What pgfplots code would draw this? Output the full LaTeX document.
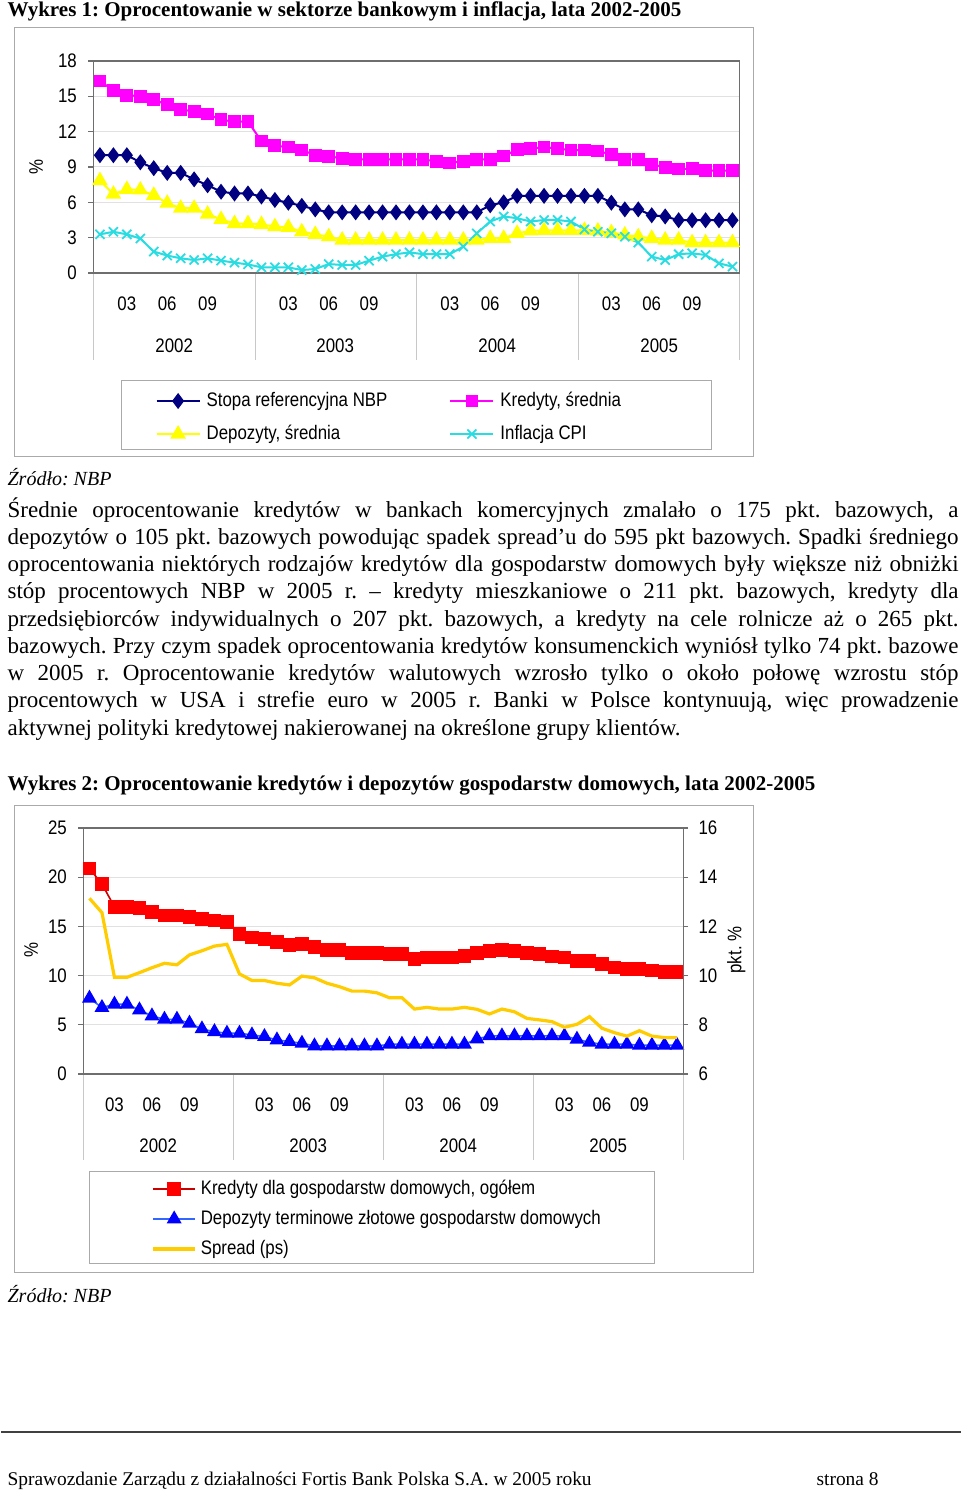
\documentclass[border=0pt]{standalone}
\usepackage{pgfplots}
\pgfplotsset{compat=1.18}
\usepackage{pgfplotstable}
\usepackage{fontspec}
\setmainfont{Liberation Serif}
\newfontfamily\chartfont[FakeStretch=0.86]{Liberation Sans}
\newcommand{\cf}{\chartfont\fontsize{9.8pt}{11pt}\selectfont}
\frenchspacing

\definecolor{navyc}{RGB}{0,0,128}
\definecolor{magc}{RGB}{255,0,255}
\definecolor{yelc}{RGB}{255,255,0}
\definecolor{cyanc}{RGB}{40,220,225}
\definecolor{redm}{RGB}{255,0,0}
\definecolor{redl}{RGB}{200,0,0}
\definecolor{bluem}{RGB}{0,0,255}
\definecolor{bluel}{RGB}{51,102,255}
\definecolor{spreadc}{RGB}{255,204,0}
\definecolor{gridc}{RGB}{225,225,225}
\definecolor{axisc}{RGB}{110,110,110}
\definecolor{framec}{RGB}{170,170,170}
\definecolor{sepc}{RGB}{200,200,200}

\pgfplotstableread{
m nbp kred dep cpi
1 10.0 16.3 7.85 3.28
2 10.0 15.5 6.7 3.5
3 10.0 15.1 7.1 3.28
4 9.4 15.0 7.05 2.93
5 8.9 14.7 6.6 1.82
6 8.5 14.3 5.93 1.48
7 8.5 13.9 5.5 1.25
8 7.95 13.7 5.5 1.1
9 7.45 13.5 5.0 1.25
10 6.9 13.0 4.55 1.05
11 6.75 12.85 4.2 0.88
12 6.75 12.85 4.2 0.73
13 6.5 11.2 4.13 0.48
14 6.2 10.8 3.93 0.48
15 5.97 10.7 3.88 0.48
16 5.7 10.45 3.5 0.25
17 5.4 10.0 3.28 0.34
18 5.15 9.9 3.08 0.76
19 5.15 9.75 2.8 0.68
20 5.15 9.65 2.8 0.68
21 5.15 9.65 2.8 1.05
22 5.15 9.65 2.8 1.39
23 5.15 9.65 2.8 1.6
24 5.15 9.65 2.8 1.75
25 5.15 9.65 2.8 1.6
26 5.15 9.48 2.8 1.6
27 5.15 9.34 2.8 1.6
28 5.15 9.5 2.8 2.24
29 5.15 9.65 2.8 3.37
30 5.75 9.65 2.95 4.37
31 6.0 9.93 2.95 4.8
32 6.55 10.47 3.37 4.65
33 6.55 10.55 3.57 4.37
34 6.55 10.7 3.62 4.5
35 6.55 10.55 3.62 4.5
36 6.55 10.44 3.62 4.37
37 6.55 10.44 3.62 3.7
38 6.55 10.36 3.57 3.5
39 5.97 10.05 3.43 3.37
40 5.4 9.65 3.23 3.08
41 5.4 9.65 3.08 2.58
42 4.9 9.22 2.95 1.39
43 4.8 8.97 2.8 1.1
44 4.48 8.83 2.8 1.6
45 4.48 8.85 2.58 1.67
46 4.48 8.69 2.58 1.53
47 4.48 8.69 2.58 0.82
48 4.48 8.69 2.58 0.54
}\tabA

\pgfplotstableread{
m kred dep spread
1 20.9 7.7 13.14
2 19.3 6.75 12.56
3 17.0 7.09 9.93
4 17.0 7.09 9.93
5 16.9 6.51 10.12
6 16.45 5.9 10.32
7 16.1 5.56 10.5
8 16.1 5.56 10.44
9 15.94 5.16 10.84
10 15.77 4.58 11.01
11 15.6 4.3 11.2
12 15.46 4.14 11.27
13 14.2 4.14 10.07
14 13.87 3.97 9.8
15 13.73 3.8 9.8
16 13.4 3.46 9.69
17 13.09 3.3 9.62
18 13.22 3.12 9.98
19 12.92 2.85 9.91
20 12.6 2.85 9.69
21 12.6 2.85 9.55
22 12.28 2.85 9.37
23 12.28 2.85 9.37
24 12.28 2.85 9.3
25 12.18 3.02 9.1
26 12.18 3.02 9.1
27 11.67 3.02 8.64
28 11.83 3.02 8.71
29 11.83 3.02 8.64
30 11.83 3.02 8.64
31 12.0 3.02 8.71
32 12.28 3.56 8.63
33 12.48 3.87 8.44
34 12.6 3.87 8.64
35 12.48 3.87 8.53
36 12.28 3.87 8.26
37 12.18 3.87 8.2
38 11.93 3.87 8.13
39 11.83 3.87 7.9
40 11.5 3.53 8.02
41 11.5 3.22 8.33
42 11.16 3.02 7.86
43 10.82 3.02 7.68
44 10.68 3.02 7.54
45 10.68 2.92 7.76
46 10.5 2.92 7.54
47 10.34 2.92 7.48
48 10.34 2.92 7.48
}\tabB

\pgfplotsset{
  pagechart/.style={
    scale only axis, clip=false,
    xmin=0.5, xmax=48.5,
    xtick={3,6,9,15,18,21,27,30,33,39,42,45},
    xticklabels={03,06,09,03,06,09,03,06,09,03,06,09},
    xtick style={draw=none},
    ytick pos=left,
    tick align=outside, major tick length=2.5pt,
    axis line style={color=axisc, line width=0.6pt},
    ytick style={color=axisc, line width=0.6pt},
    ymajorgrids, grid style={color=gridc, line width=0.5pt},
    tick label style={font=\cf},
    /pgf/number format/assume math mode=true,
    xticklabel style={anchor=north, inner sep=0pt, yshift=-9pt},
    yticklabel style={anchor=east, inner sep=0pt, xshift=-5.5pt},
    legend cell align=left,
  }
}

\begin{document}
\begin{tikzpicture}
\begin{scope}[x=0.5pt,y=-0.5pt]
  \path[use as bounding box] (0,0) rectangle (960,1491);
  \fill[white] (0,0) rectangle (960,1491);
  % chart frames
  \draw[framec, line width=0.5pt] (13,28) rectangle (752,457);
  \draw[framec, line width=0.5pt] (13,805) rectangle (752,1272);
  % legend boxes
  \draw[framec, line width=0.5pt] (120,381) rectangle (710,450);
  \draw[framec, line width=0.5pt] (88,1171) rectangle (653,1263);
  % category separators
  \foreach \x in {92,254,415,577,738} \draw[sepc, line width=0.5pt] (\x,273) -- (\x,360);
  \foreach \x in {82,232,382,532,682} \draw[sepc, line width=0.5pt] (\x,1074) -- (\x,1160);
\end{scope}

% ---------- Chart 1 ----------
\begin{axis}[pagechart,
  at={(46pt,-136.5pt)}, anchor=south west,
  width=323pt, height=106pt,
  ymin=0, ymax=18, ytick={0,3,...,18},
  legend columns=2,
  legend image code/.code={\draw[mark repeat=2,mark phase=2] plot coordinates {(0pt,0pt) (10.75pt,0pt) (21.5pt,0pt)};},
  legend style={draw=none, fill=none, inner sep=0pt, row sep=0pt, column sep=3pt,
    at={(0.0960,-0.6817)}, anchor=west, font=\cf,
    nodes={inner sep=0pt, minimum height=16.5pt},
    /tikz/every even column/.append style={column sep=31pt}},
]
\addplot[color=navyc, line width=1pt, mark=diamond*, mark size=3.2pt, mark options={fill=navyc}] table[x=m,y=nbp] {\tabA};
\addlegendentry{Stopa referencyjna NBP}
\addplot[color=magc, line width=1pt, mark=square*, mark size=2.7pt, mark options={fill=magc}] table[x=m,y=kred] {\tabA};
\addlegendentry{Kredyty, średnia}
\addplot[color=yelc, line width=1pt, mark=triangle*, mark size=3.5pt, mark options={fill=yelc}] table[x=m,y=dep] {\tabA};
\addlegendentry{Depozyty, średnia}
\addplot[color=cyanc, line width=1pt, mark=x, mark size=3.2pt, mark options={line width=0.9pt}] table[x=m,y=cpi] {\tabA};
\addlegendentry{Inflacja CPI}
\end{axis}

% ---------- Chart 2 ----------
\begin{axis}[pagechart,
  at={(41pt,-537pt)}, anchor=south west,
  width=300pt, height=123pt,
  ymin=0, ymax=25, ytick={0,5,...,25},
  legend image code/.code={\draw[mark repeat=2,mark phase=2] plot coordinates {(0pt,0pt) (10.5pt,0pt) (21pt,0pt)};},
  legend style={draw=none, fill=none, inner sep=0pt, row sep=0pt, column sep=2pt,
    at={(0.1133,-0.5894)}, anchor=west, font=\cf,
    nodes={inner sep=0pt, minimum height=15pt}},
]
\addplot[color=redl, line width=0.8pt, mark=square*, mark size=3pt, mark options={fill=redm, draw=redm}] table[x=m,y=kred] {\tabB};
\addlegendentry{Kredyty dla gospodarstw domowych, ogółem}
\addplot[color=bluel, line width=0.8pt, mark=triangle*, mark size=3.5pt, mark options={fill=bluem, draw=bluem}] table[x=m,y=dep] {\tabB};
\addlegendentry{Depozyty terminowe złotowe gospodarstw domowych}
\addlegendimage{color=spreadc, line width=1.6pt, no markers}
\addlegendentry{Spread (ps)}
\end{axis}
\begin{axis}[
  at={(41pt,-537pt)}, anchor=south west,
  scale only axis, clip=false,
  width=300pt, height=123pt,
  xmin=0.5, xmax=48.5,
  ymin=6, ymax=16, ytick={6,8,...,16},
  axis x line=none, axis y line*=right,
  tick align=outside, major tick length=2.5pt,
  axis line style={color=axisc, line width=0.6pt},
  ytick style={color=axisc, line width=0.6pt},
  tick label style={font=\cf},
  /pgf/number format/assume math mode=true,
  yticklabel style={anchor=west, inner sep=0pt, xshift=5pt},
]
\addplot[color=spreadc, line width=1.6pt, no markers] table[x=m,y=spread] {\tabB};
\end{axis}

\begin{scope}[x=0.5pt,y=-0.5pt]
  % titles
  \node[anchor=base west, inner sep=0pt, font=\bfseries\fontsize{10.5pt}{12pt}\selectfont] at (6,17) {Wykres 1: Oprocentowanie w sektorze bankowym i inflacja, lata 2002-2005};
  \node[anchor=base west, inner sep=0pt, font=\bfseries\fontsize{10.5pt}{12pt}\selectfont] at (6,790) {Wykres 2: Oprocentowanie kredytów i depozytów gospodarstw domowych, lata 2002-2005};
  % axis labels
  \node[rotate=90, font=\cf, inner sep=0pt] at (35,167) {\%};
  \node[rotate=90, font=\cf, inner sep=0pt] at (30,950) {\%};
  \node[rotate=90, font=\cf, inner sep=0pt] at (735,950) {pkt. \%};
  % years
  \foreach \x/\t in {173/2002,334/2003,496/2004,658/2005} \node[font=\cf, inner sep=0pt] at (\x,346) {\t};
  \foreach \x/\t in {157/2002,307/2003,457/2004,607/2005} \node[font=\cf, inner sep=0pt] at (\x,1146) {\t};
  % sources
  \node[anchor=base west, inner sep=0pt, font=\itshape\fontsize{10pt}{12pt}\selectfont] at (6,486) {Źródło: NBP};
  \node[anchor=base west, inner sep=0pt, font=\itshape\fontsize{10pt}{12pt}\selectfont] at (6,1302) {Źródło: NBP};
  % body text
  \begin{scope}[every node/.style={anchor=base west, inner sep=0pt, font=\fontsize{11.5pt}{13.6pt}\selectfont}]
  \node at (6,517) {\hbox to 475.5pt{Średnie oprocentowanie kredytów w bankach komercyjnych zmalało o 175 pkt. bazowych, a}};
  \node at (6,544.25) {\hbox to 475.5pt{depozytów o 105 pkt. bazowych powodując spadek spread’u do 595 pkt bazowych. Spadki średniego}};
  \node at (6,571.5) {\hbox to 475.5pt{oprocentowania niektórych rodzajów kredytów dla gospodarstw domowych były większe niż obniżki}};
  \node at (6,598.75) {\hbox to 475.5pt{stóp procentowych NBP w 2005 r. – kredyty mieszkaniowe o 211 pkt. bazowych, kredyty dla}};
  \node at (6,626) {\hbox to 475.5pt{przedsiębiorców indywidualnych o 207 pkt. bazowych, a kredyty na cele rolnicze aż o 265 pkt.}};
  \node at (6,653.25) {\hbox to 475.5pt{bazowych. Przy czym spadek oprocentowania kredytów konsumenckich wyniósł tylko 74 pkt. bazowe}};
  \node at (6,680.5) {\hbox to 475.5pt{w 2005 r. Oprocentowanie kredytów walutowych wzrosło tylko o około połowę wzrostu stóp}};
  \node at (6,707.75) {\hbox to 475.5pt{procentowych w USA i strefie euro w 2005 r. Banki w Polsce kontynuują, więc prowadzenie}};
  \node at (6,735) {aktywnej polityki kredytowej nakierowanej na określone grupy klientów.};
  \end{scope}
  % footer
  \draw[line width=1.2pt, color=black!75] (0,1432) -- (960,1432);
  \node[anchor=base west, inner sep=0pt, font=\fontsize{9.7pt}{12pt}\selectfont] at (6,1485) {Sprawozdanie Zarządu z działalności Fortis Bank Polska S.A. w 2005 roku};
  \node[anchor=base west, inner sep=0pt, font=\fontsize{9.7pt}{12pt}\selectfont] at (815,1485) {strona 8};
\end{scope}
\end{tikzpicture}
\end{document}
